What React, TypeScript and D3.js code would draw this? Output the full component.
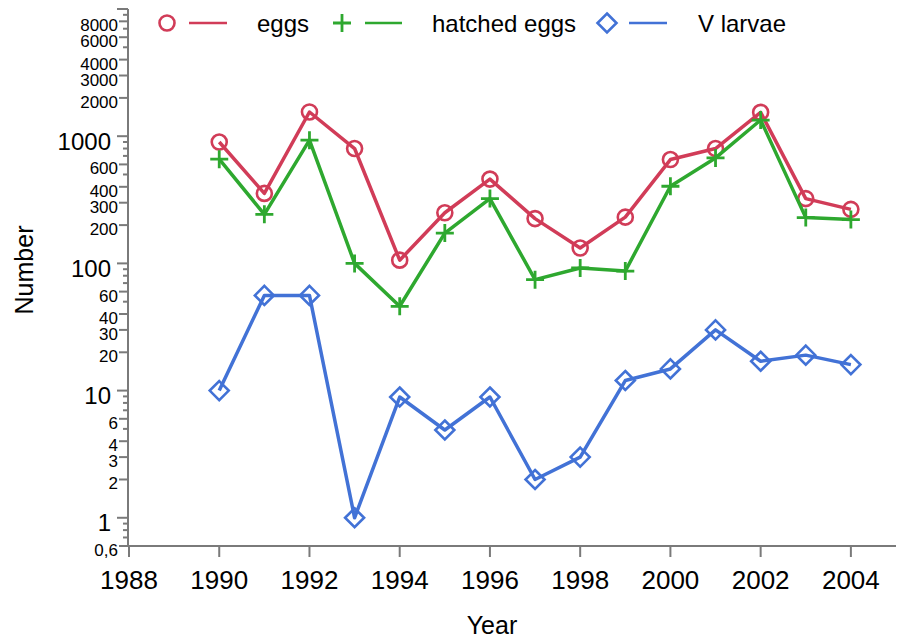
import React from "react";
import * as d3 from "d3";

const years = [1990, 1991, 1992, 1993, 1994, 1995, 1996, 1997, 1998, 1999, 2000, 2001, 2002, 2003, 2004];
const eggs = [900, 355, 1550, 800, 106, 250, 460, 225, 132, 231, 655, 800, 1540, 323, 266];
const hatchedEggs = [660, 243, 930, 100, 46, 173, 323, 74.5, 92, 87, 404, 675, 1340, 229, 221];
const vLarvae = [10, 56, 56, 1, 8.9, 4.9, 8.9, 2, 3, 12, 14.8, 30, 17, 19, 16];

const xTicks = [1988, 1990, 1992, 1994, 1996, 1998, 2000, 2002, 2004];
const yMajor = [1, 10, 100, 1000, 10000];
const yMajorLabels = ["1", "10", "100", "1000", ""];
const yMinorLabeled = [0.6, 2, 3, 4, 6, 20, 30, 40, 60, 200, 300, 400, 600, 2000, 3000, 4000, 6000, 8000];
const yMinorLabels = ["0,6", "2", "3", "4", "6", "20", "30", "40", "60", "200", "300", "400", "600", "2000", "3000", "4000", "6000", "8000"];

const seriesNames = ["eggs", "hatched eggs", "V larvae"];
const colors = ["#d13c58", "#2ea82f", "#4272d6"];

const FONT = "'Liberation Sans', Arial, Helvetica, sans-serif";
const AXIS = "#7a7a7a";

function Marker({ kind, x, y, color }: { kind: number; x: number; y: number; color: string }) {
  if (kind === 0) return <circle cx={x} cy={y} r={7.5} fill="none" stroke={color} strokeWidth={2.6} />;
  if (kind === 1)
    return (
      <path d={`M${x - 9},${y}H${x + 9}M${x},${y - 9}V${y + 9}`} stroke={color} strokeWidth={2.8} fill="none" />
    );
  return (
    <path d={`M${x},${y - 9.5}L${x + 9.5},${y}L${x},${y + 9.5}L${x - 9.5},${y}Z`} stroke={color} strokeWidth={2.6} fill="none" />
  );
}

export default function App() {
  const x = d3.scaleLinear().domain([1988, 2005]).range([129, 896]);
  const y = d3.scaleLog().domain([0.6, 10000]).range([546, 9]);
  const allTicks = y.ticks();
  const data = [eggs, hatchedEggs, vLarvae];
  const line = d3
    .line<number>()
    .x((_, i) => x(years[i]))
    .y((v) => y(v));

  const isIn = (arr: number[], v: number) => arr.some((a) => Math.abs(a - v) / a < 1e-6);

  return (
    <svg width={900} height={640} style={{ position: "absolute", left: 0, top: 0, background: "#fff" }} fontFamily={FONT}>
      {/* Y axis */}
      <line x1={128} x2={128} y1={y(10000)} y2={546} stroke={AXIS} strokeWidth={2} />
      {allTicks.map((t, i) => {
        const major = isIn(yMajor, t);
        const lab = isIn(yMinorLabeled, t);
        const len = major ? 11 : lab ? 9 : 5;
        return <line key={"t" + i} x1={128 - len} x2={128} y1={y(t)} y2={y(t)} stroke={AXIS} strokeWidth={2} />;
      })}
      {yMajor.map((t, i) => (
        <text key={"ml" + i} x={111} y={y(t) + 13.5} textAnchor="end" fontSize={24} fill="#000">
          {yMajorLabels[i]}
        </text>
      ))}
      {yMinorLabeled.map((t, i) => (
        <text key={"nl" + i} x={118} y={y(t) + 10} textAnchor="end" fontSize={17} fill="#000">
          {yMinorLabels[i]}
        </text>
      ))}
      {/* X axis */}
      <line x1={127} x2={896} y1={546} y2={546} stroke={AXIS} strokeWidth={2} />
      {xTicks.map((t) => (
        <g key={"x" + t}>
          <line x1={x(t)} x2={x(t)} y1={546} y2={557} stroke={AXIS} strokeWidth={2} />
          <text x={x(t)} y={589} textAnchor="middle" fontSize={26} fill="#000">
            {t}
          </text>
        </g>
      ))}
      <text x={492} y={634} textAnchor="middle" fontSize={25} fill="#000">
        Year
      </text>
      <text transform="translate(33,270) rotate(-90)" textAnchor="middle" fontSize={25} fill="#000">
        Number
      </text>

      {/* Series */}
      {data.map((vals, s) => (
        <g key={"s" + s}>
          <path d={line(vals) || ""} fill="none" stroke={colors[s]} strokeWidth={3.5} strokeLinejoin="round" />
          {vals.map((v, i) => (
            <Marker key={i} kind={s} x={x(years[i])} y={y(v)} color={colors[s]} />
          ))}
        </g>
      ))}

      {/* Legend */}
      {[
        { mx: 167, lx1: 189, lx2: 227, tx: 257 },
        { mx: 342, lx1: 365, lx2: 402, tx: 432 },
        { mx: 607, lx1: 629, lx2: 667, tx: 698 },
      ].map((p, s) => (
        <g key={"lg" + s}>
          <Marker kind={s} x={p.mx} y={23} color={colors[s]} />
          <line x1={p.lx1} x2={p.lx2} y1={23} y2={23} stroke={colors[s]} strokeWidth={2.4} />
          <text x={p.tx} y={32} fontSize={24} fill="#000">
            {seriesNames[s]}
          </text>
        </g>
      ))}
    </svg>
  );
}
